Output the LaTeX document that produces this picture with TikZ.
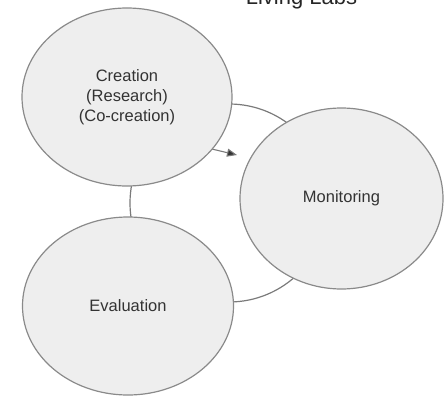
\documentclass[tikz,border=0pt]{standalone}
\usepackage{fontspec}
\setmainfont{Liberation Sans}
\usetikzlibrary{arrows.meta,shapes.geometric}
\definecolor{bubblefill}{HTML}{EEEEEE}
\definecolor{bubbleline}{HTML}{8A8A8A}
\definecolor{ringline}{HTML}{7A7A7A}
\definecolor{labeltext}{HTML}{333333}
\begin{document}
\begin{tikzpicture}[x=1pt,y=-1pt,
  bubble/.style={ellipse, draw=bubbleline, line width=1.2pt, fill=bubblefill,
    text=labeltext, font=\fontsize{16.5}{20}\selectfont, align=center, inner sep=0pt},
  ring/.style={draw=ringline, line width=1.2pt},
  pointer/.style={draw=ringline, line width=1.1pt,
    -{Triangle[length=10pt,width=8pt,fill=labeltext]}}]
  \useasboundingbox (0,0) rectangle (444,396);
  \clip (0,0) rectangle (444,396);
  % cycle ring behind the stages
  \coordinate (ringc) at (229,203);
  \draw[ring] (ringc) circle[radius=99];
  % short pointer leaving the creation stage
  \coordinate (ptail) at (195,145);
  \coordinate (ptip) at (237,155);
  \draw[pointer] (ptail) -- (ptip);
  % the three stages
  \node[bubble, minimum width=210pt, minimum height=178pt] (creation) at (127,97)
    {Creation\\(Research)\\(Co-creation)};
  \node[bubble, minimum width=203pt, minimum height=181pt] (monitoring) at (341.5,198.5)
    {Monitoring};
  \node[bubble, minimum width=211pt, minimum height=178pt] (evaluation) at (128,306)
    {Evaluation};
  % heading
  \node[anchor=base, text=black!85, font=\fontsize{22}{26}\selectfont, inner sep=0pt]
    (title) at (301.5,5) {Living Labs};
\end{tikzpicture}
\end{document}
